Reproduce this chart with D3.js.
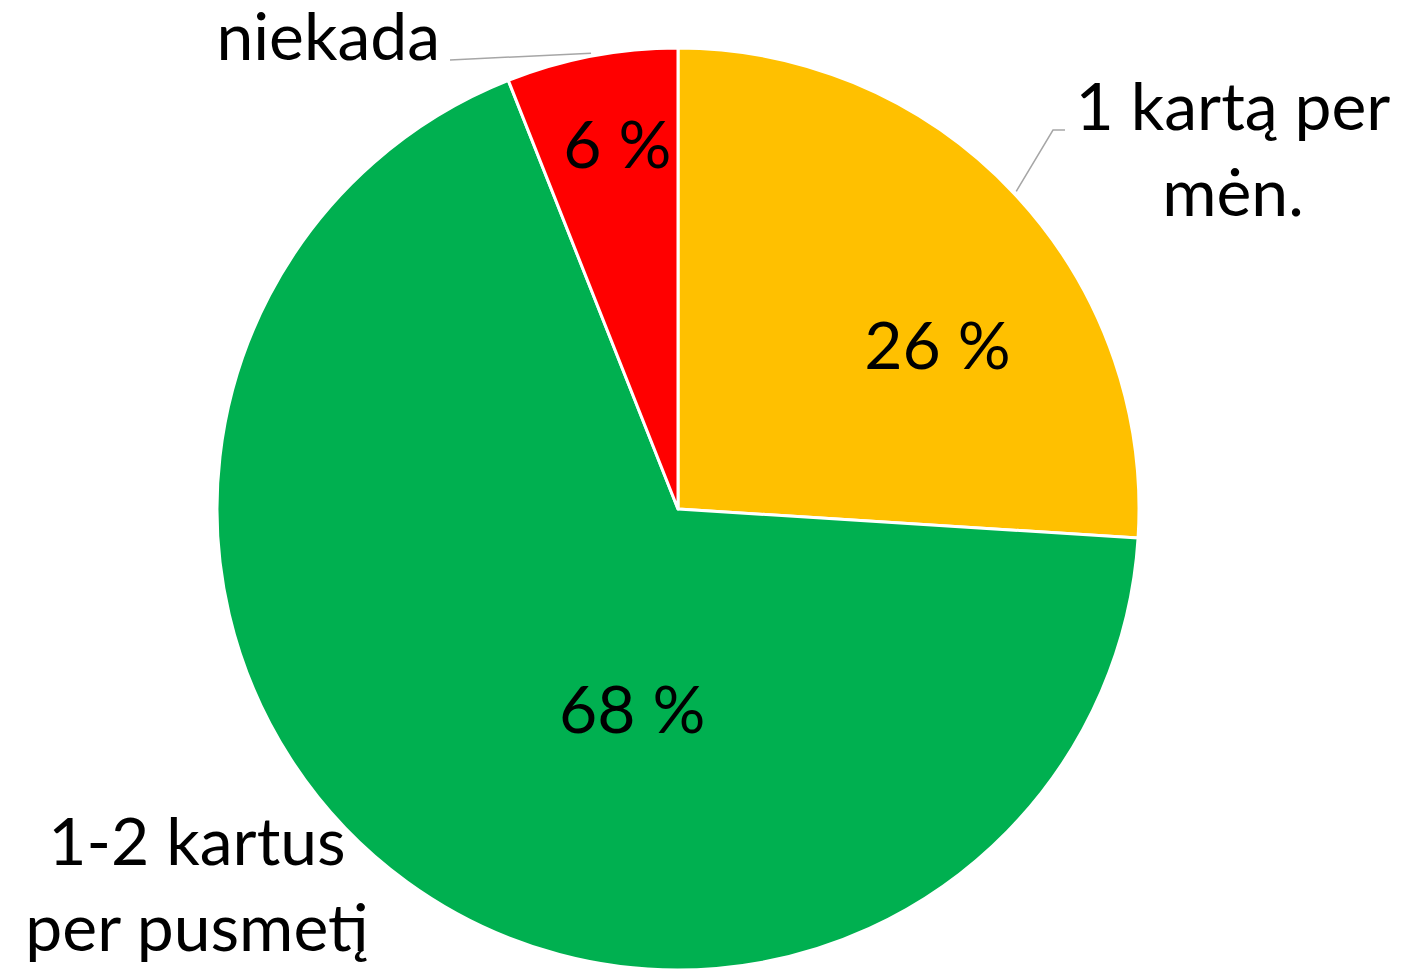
<!DOCTYPE html>
<html>
<head>
<meta charset="utf-8">
<script src="https://cdn.jsdelivr.net/npm/d3@7"></script>
<style>
  body { margin: 0; background: #fff; }
  text { font-family: Lato, "Liberation Sans", sans-serif; fill: #000; }
</style>
</head>
<body>
<div id="chart"></div>
<script>
var categories = ["1 kartą per mėn.", "1-2 kartus per pusmetį", "niekada"];
var values = [26, 68, 6];
var colors = ["#FFC000", "#00B050", "#FF0000"];
var nameLines = [["1 kartą per", "mėn."], ["1-2 kartus", "per pusmetį"], ["niekada"]];

var width = 1407, height = 970;
var cx = 678, cy = 509, radius = 461;

// where the value labels sit (radius, angle in degrees from 12 o'clock)
var valuePos = [[308, 57.4], [204, 193], [372, -9.4]];
// category labels: anchor point and leader style
var namePos = [
  {x: 1233, y: 130, anchor: "middle", leader: true, elbow: [1053, 1065]},
  {x: 197, y: 865, anchor: "middle", leader: false},
  {x: 440, y: 60, anchor: "end", leader: true, elbow: [450]}
];

var svg = d3.select("#chart").append("svg")
  .attr("width", width)
  .attr("height", height);

var g = svg.append("g").attr("transform", `translate(${cx},${cy})`);

var pie = d3.pie().sort(null).value(d => d);
var arcs = pie(values);
var arc = d3.arc().innerRadius(0).outerRadius(radius);

g.selectAll("path.slice")
  .data(arcs)
  .join("path")
  .attr("class", "slice")
  .attr("d", arc)
  .attr("fill", (d, i) => colors[i])
  .attr("stroke", "#fff")
  .attr("stroke-width", 3)
  .attr("stroke-linejoin", "round");

// value labels
g.selectAll("text.val")
  .data(arcs)
  .join("text")
  .attr("class", "val")
  .attr("text-anchor", "middle")
  .attr("dominant-baseline", "central")
  .attr("font-size", 66)
  .attr("x", (d, i) => valuePos[i][0] * Math.sin(valuePos[i][1] * Math.PI / 180))
  .attr("y", (d, i) => -valuePos[i][0] * Math.cos(valuePos[i][1] * Math.PI / 180))
  .text(d => d.value + " %");

// leader lines
arcs.forEach((d, i) => {
  var p = namePos[i];
  if (!p.leader) return;
  var mid = (d.startAngle + d.endAngle) / 2;
  var r = radius + 3;
  var sx = cx + r * Math.sin(mid), sy = cy - r * Math.cos(mid);
  var pts = [[sx, sy]];
  var ly = i === 0 ? p.y : p.y;
  p.elbow.forEach(ex => pts.push([ex, ly]));
  svg.append("path")
    .attr("d", d3.line()(pts))
    .attr("fill", "none")
    .attr("stroke", "#A6A6A6")
    .attr("stroke-width", 1.5);
});

// category labels
nameLines.forEach((lines, i) => {
  var p = namePos[i];
  var t = svg.append("text")
    .attr("text-anchor", p.anchor)
    .attr("font-size", 66)
    .attr("x", p.x)
    .attr("y", p.y);
  lines.forEach((ln, j) => {
    t.append("tspan").attr("x", p.x).attr("dy", j === 0 ? 0 : 86).text(ln);
  });
});
</script>
</body>
</html>
